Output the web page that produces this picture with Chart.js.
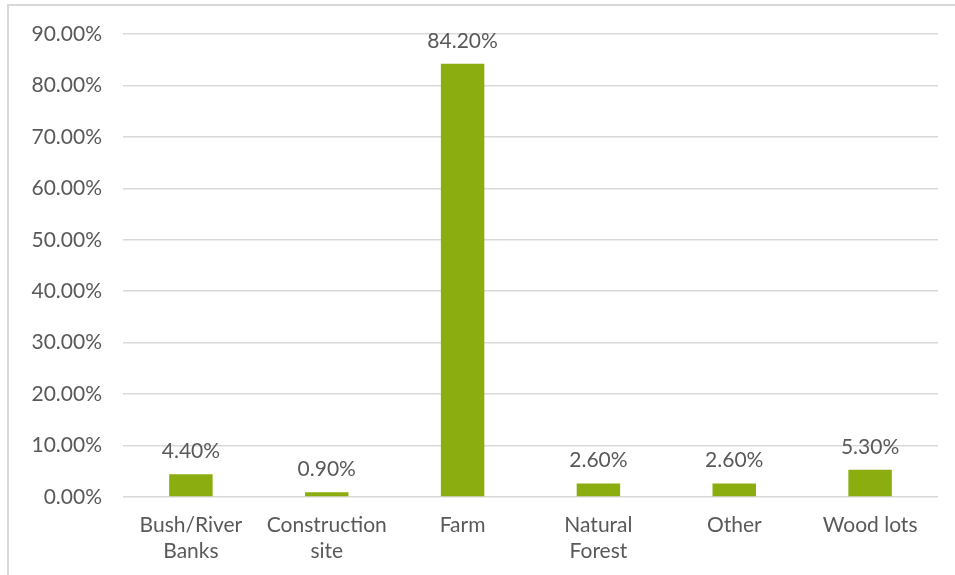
<!DOCTYPE html>
<html lang="en">
<head>
    <meta charset="UTF-8">
    <title>Location share</title>
    <script src="https://cdn.jsdelivr.net/npm/chart.js"></script>
    <style>
        body {
            margin: 0;
            padding: 0;
            overflow: hidden;
            background-color: #ffffff;
        }
        .frame {
            position: absolute;
            left: 7px;
            top: 4px;
            width: 946px;
            height: 569px;
            border-left: 2px solid #d9d9d9;
            border-top: 2px solid #d9d9d9;
        }
        .chart-box {
            position: absolute;
            left: 0;
            top: 0;
            width: 955px;
            height: 575px;
        }
    </style>
</head>
<body>
    <div class="frame"></div>
    <div class="chart-box">
        <canvas id="locChart"></canvas>
    </div>

    <script>
        const categories = [['Bush/River', 'Banks'], ['Construction', 'site'], 'Farm', ['Natural', 'Forest'], 'Other', 'Wood lots'];
        const shares = [4.4, 0.9, 84.2, 2.6, 2.6, 5.3];
        const yTicks = [0, 10, 20, 30, 40, 50, 60, 70, 80, 90];

        const textColor = '#595959';
        const fontFamily = 'Lato, sans-serif';
        const fontSize = 21;

        // labels above each bar
        const valueLabels = {
            id: 'valueLabels',
            afterDatasetsDraw(chart) {
                const ctx = chart.ctx;
                const meta = chart.getDatasetMeta(0);
                ctx.save();
                ctx.font = fontSize + 'px ' + fontFamily;
                ctx.fillStyle = textColor;
                ctx.textAlign = 'center';
                ctx.textBaseline = 'middle';
                meta.data.forEach((bar, i) => {
                    ctx.fillText(shares[i].toFixed(2) + '%', bar.x, bar.y - 23);
                });
                ctx.restore();
            }
        };

        new Chart(document.getElementById('locChart'), {
            type: 'bar',
            data: {
                labels: categories,
                datasets: [{
                    data: shares,
                    backgroundColor: '#8cad10',
                    borderWidth: 0,
                    categoryPercentage: 1,
                    barPercentage: 0.32
                }]
            },
            options: {
                responsive: true,
                maintainAspectRatio: false,
                animation: false,
                layout: {
                    padding: { left: 0, right: 17, top: 34, bottom: 0 }
                },
                plugins: {
                    legend: { display: false },
                    tooltip: { enabled: false }
                },
                scales: {
                    x: {
                        grid: { display: false },
                        border: { display: false },
                        ticks: {
                            color: textColor,
                            font: { family: fontFamily, size: fontSize, lineHeight: 1.24 },
                            padding: 7,
                            maxRotation: 0,
                            autoSkip: false
                        },
                        afterFit(scale) { scale.height = 78; }
                    },
                    y: {
                        min: 0,
                        max: 90,
                        afterBuildTicks(scale) {
                            scale.ticks = yTicks.map(v => ({ value: v }));
                        },
                        grid: { color: '#d9d9d9', lineWidth: 1.5, drawTicks: false },
                        border: { display: false },
                        ticks: {
                            color: textColor,
                            font: { family: fontFamily, size: fontSize },
                            padding: 21,
                            callback: v => v.toFixed(2) + '%'
                        },
                        afterFit(scale) { scale.width = 123; }
                    }
                }
            },
            plugins: [valueLabels]
        });
    </script>
</body>
</html>
